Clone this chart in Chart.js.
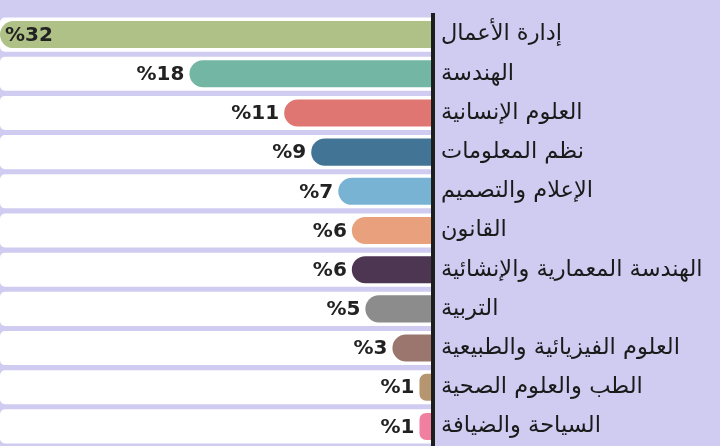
<!DOCTYPE html>
<html>
<head>
<meta charset="utf-8">
<script src="https://cdn.jsdelivr.net/npm/chart.js@4"></script>
<style>
	html, body { margin: 0; padding: 0; background: #cfcbf1; }
	#wrap { width: 720px; height: 446px; position: relative; }
</style>
</head>
<body>
<div id="wrap"><canvas id="myChart"></canvas></div>
<script>
const labels = ['إدارة الأعمال', 'الهندسة', 'العلوم الإنسانية', 'نظم المعلومات', 'الإعلام والتصميم', 'القانون',
	'الهندسة المعمارية والإنشائية', 'التربية', 'العلوم الفيزيائية والطبيعية', 'الطب والعلوم الصحية', 'السياحة والضيافة'];
const shares = [32, 18, 11, 9, 7, 6, 6, 5, 3, 1, 1];  // النسبة المئوية
const barColors = ['#afc187', '#74b6a4', '#e07672', '#427595', '#78b3d3', '#e9a07d',
	'#4c3652', '#8c8c8c', '#9a766e', '#b69571', '#f07fa0'];
const maxShare = 32;
const track = labels.map(() => maxShare);  // الشريط الأبيض خلف كل عمود

// كتابة النسبة بجانب كل عمود
const valueLabels = {
	id: 'valueLabels',
	afterDatasetsDraw(chart) {
		const ctx = chart.ctx;
		const meta = chart.getDatasetMeta(0);
		ctx.save();
		ctx.font = 'bold 20px "DejaVu Sans", sans-serif';
		ctx.fillStyle = '#222';
		ctx.textBaseline = 'middle';
		meta.data.forEach((bar, i) => {
			const text = '%' + shares[i];
			const w = ctx.measureText(text).width;
			const left = Math.min(bar.x, bar.base);
			if (left - w - 6 < chart.chartArea.left) {
				ctx.textAlign = 'left';
				ctx.fillText(text, chart.chartArea.left + 5, bar.y + 1);
			} else {
				ctx.textAlign = 'right';
				ctx.fillText(text, left - 5, bar.y + 1);
			}
		});
		ctx.restore();
	}
};

new Chart(document.getElementById('myChart'), {
	type: 'bar',
	data: {
		labels: labels,
		datasets: [{
			data: shares,
			backgroundColor: barColors,
			borderRadius: 14,
			borderSkipped: 'start',
			barPercentage: 0.69,
			categoryPercentage: 1,
			grouped: false
		}, {
			data: track,
			backgroundColor: '#ffffff',
			borderRadius: 5,
			borderSkipped: 'start',
			barPercentage: 0.87,
			categoryPercentage: 1,
			grouped: false
		}]
	},
	options: {
		indexAxis: 'y',
		responsive: true,
		maintainAspectRatio: false,
		animation: false,
		layout: {
			padding: { top: 15, bottom: 0, left: 0, right: 0 }
		},
		plugins: {
			legend: { display: false },
			tooltip: { enabled: false }
		},
		scales: {
			x: {
				display: false,
				reverse: true,
				min: 0,
				max: maxShare
			},
			y: {
				position: 'right',
				afterFit: (scale) => {
					scale.width = 287;
					scale.paddingTop = 0;
					scale.paddingBottom = 0;
				},
				grid: { display: false, drawTicks: false },
				border: { display: true, color: '#1e1e1e', width: 4, z: 1 },  // axis line over the bars
				ticks: {
					padding: 8,
					color: '#1a1a1a',
					font: { family: '"DejaVu Sans", sans-serif', size: 22.5 }
				}
			}
		}
	},
	plugins: [valueLabels]
});
</script>
</body>
</html>
